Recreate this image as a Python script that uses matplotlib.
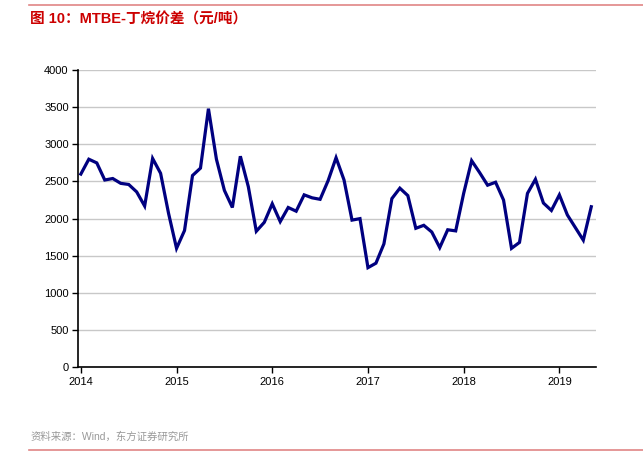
import numpy as np
import matplotlib
matplotlib.use("Agg")
import matplotlib.pyplot as plt

plt.rcParams["font.family"] = ["Liberation Sans", "Noto Sans CJK SC", "DejaVu Sans"]

# 月度数据 2014-01 ~ 2019-05
values = [
    2600, 2800, 2750, 2520, 2540, 2475, 2460, 2360, 2170, 2810, 2610, 2070,
    1600, 1840, 2580, 2680, 3480, 2800, 2380, 2150, 2840, 2430, 1830, 1950,
    2200, 1960, 2150, 2100, 2320, 2280, 2260, 2510, 2820, 2520, 1980, 2000,
    1340, 1400, 1660, 2270, 2410, 2310, 1870, 1910, 1820, 1610, 1850, 1835,
    2340, 2780, 2620, 2450, 2490, 2250, 1600, 1680, 2340, 2530, 2210, 2110,
    2320, 2050, 1880, 1710, 2160,
]
year_labels = ["2014", "2015", "2016", "2017", "2018", "2019"]
y_ticks = [0, 500, 1000, 1500, 2000, 2500, 3000, 3500, 4000]

title = "图 10：MTBE-丁烷价差（元/吨）"
source = "资料来源：Wind，东方证券研究所"

fig = plt.figure(figsize=(6.43, 4.55), dpi=100)
ax = fig.add_axes([0.122, 0.193, 0.805, 0.653])

x = np.arange(len(values))
ax.plot(x, values, color="#000080", linewidth=2.3, solid_joinstyle="miter")

ax.set_xlim(-0.3, 64.6)
ax.set_ylim(0, 4000)
ax.set_yticks(y_ticks)
ax.set_yticklabels([str(v) for v in y_ticks], fontsize=8)
ax.set_xticks(np.arange(len(year_labels)) * 12)
ax.set_xticklabels(year_labels, fontsize=8)

ax.grid(axis="y", color="#c8c8c8", linewidth=1)
ax.set_axisbelow(True)
for s in ["top", "right"]:
    ax.spines[s].set_visible(False)
ax.spines["left"].set_linewidth(1.2)
ax.spines["bottom"].set_linewidth(1.2)
ax.tick_params(axis="both", direction="out", length=4, width=1, pad=3, colors="black")

fig.text(0.047, 0.958, title, color="#cc0000", fontsize=10.5, fontweight="bold",
         ha="left", va="center", family=["Liberation Sans", "Noto Sans CJK SC"])
fig.add_artist(plt.Line2D([0.045, 1.0], [0.99, 0.99], color="#e08585", linewidth=1.2))

fig.text(0.047, 0.04, source, color="#999999", fontsize=7.5, ha="left", va="center",
         family=["Liberation Sans", "Noto Sans CJK SC"])
fig.add_artist(plt.Line2D([0.045, 1.0], [0.011, 0.011], color="#e08585", linewidth=1.2))

fig.savefig("out.png", dpi=100)
